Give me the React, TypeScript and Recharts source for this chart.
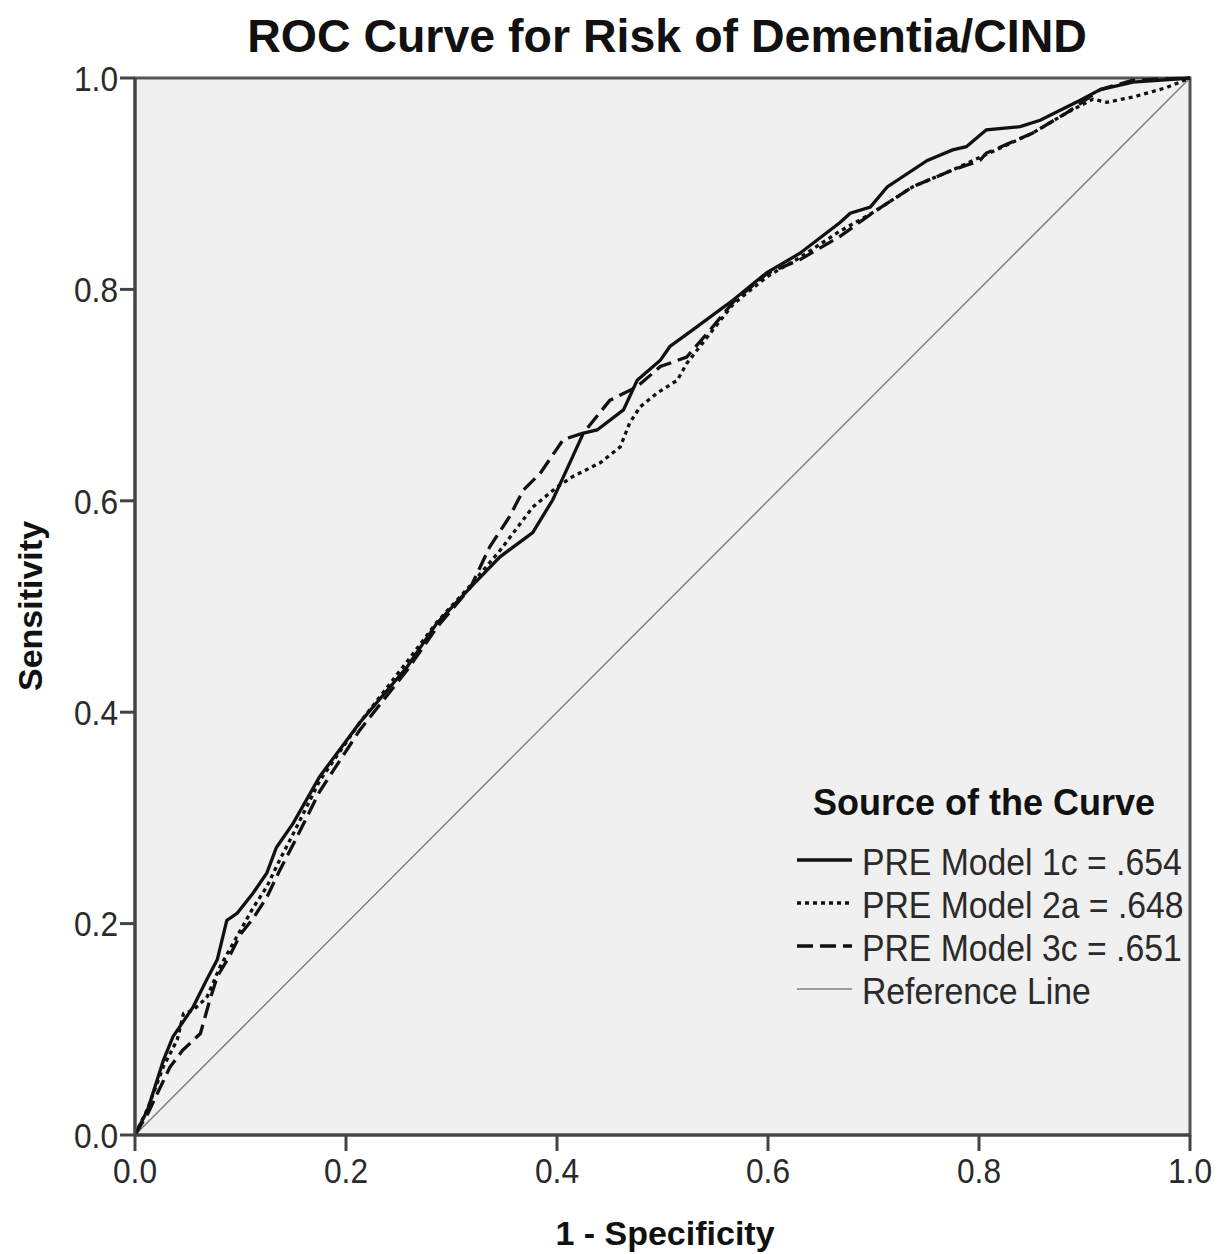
import { Legend, Line, LineChart, ReferenceArea, ReferenceLine, XAxis, YAxis } from "recharts";

// 1 - specificity / sensitivity pairs
const model1cX = [0, 0.012, 0.027, 0.036, 0.055, 0.068, 0.078, 0.087, 0.097, 0.112, 0.125, 0.134, 0.15, 0.175, 0.213, 0.258, 0.286, 0.318, 0.346, 0.377, 0.396, 0.409, 0.425, 0.438, 0.463, 0.476, 0.498, 0.507, 0.529, 0.567, 0.599, 0.63, 0.668, 0.678, 0.697, 0.713, 0.751, 0.775, 0.788, 0.807, 0.839, 0.858, 0.896, 0.915, 0.946, 1];
const model1cY = [0, 0.024, 0.071, 0.093, 0.121, 0.147, 0.166, 0.203, 0.21, 0.229, 0.248, 0.272, 0.295, 0.339, 0.39, 0.443, 0.484, 0.518, 0.547, 0.57, 0.601, 0.629, 0.664, 0.667, 0.686, 0.714, 0.733, 0.746, 0.762, 0.79, 0.816, 0.834, 0.863, 0.872, 0.878, 0.897, 0.922, 0.932, 0.935, 0.951, 0.954, 0.96, 0.979, 0.989, 0.996, 1];

const model2aX = [0, 0.012, 0.027, 0.04, 0.046, 0.055, 0.068, 0.081, 0.095, 0.112, 0.125, 0.137, 0.15, 0.175, 0.213, 0.258, 0.286, 0.318, 0.346, 0.377, 0.4, 0.415, 0.441, 0.46, 0.469, 0.479, 0.495, 0.514, 0.523, 0.548, 0.567, 0.599, 0.63, 0.668, 0.7, 0.737, 0.775, 0.801, 0.851, 0.883, 0.908, 0.921, 0.946, 0.978, 1];
const model2aY = [0, 0.025, 0.065, 0.09, 0.115, 0.118, 0.13, 0.16, 0.185, 0.215, 0.235, 0.26, 0.285, 0.335, 0.39, 0.448, 0.485, 0.52, 0.553, 0.594, 0.613, 0.623, 0.636, 0.651, 0.674, 0.689, 0.702, 0.714, 0.73, 0.762, 0.786, 0.812, 0.83, 0.855, 0.873, 0.897, 0.913, 0.925, 0.948, 0.967, 0.98, 0.977, 0.982, 0.991, 1];

const model3cX = [0, 0.012, 0.033, 0.045, 0.062, 0.071, 0.078, 0.09, 0.1, 0.112, 0.125, 0.137, 0.15, 0.175, 0.213, 0.258, 0.286, 0.318, 0.336, 0.355, 0.368, 0.384, 0.406, 0.425, 0.45, 0.476, 0.498, 0.523, 0.548, 0.567, 0.599, 0.63, 0.668, 0.7, 0.737, 0.775, 0.801, 0.807, 0.851, 0.883, 0.915, 0.946, 1];
const model3cY = [0, 0.02, 0.064, 0.08, 0.096, 0.128, 0.15, 0.17, 0.19, 0.205, 0.225, 0.25, 0.275, 0.325, 0.383, 0.44, 0.48, 0.518, 0.556, 0.585, 0.61, 0.626, 0.658, 0.664, 0.695, 0.708, 0.727, 0.736, 0.765, 0.788, 0.815, 0.828, 0.85, 0.873, 0.897, 0.913, 0.922, 0.929, 0.948, 0.967, 0.989, 0.998, 1];

const seriesNames = ["PRE Model 1c = .654", "PRE Model 2a = .648", "PRE Model 3c = .651"];
const seriesDash = ["", "4 4", "16 7"];
const axisTicks = [0, 0.2, 0.4, 0.6, 0.8, 1.0];

const toPoints = (xs: number[], ys: number[]) => xs.map((x, i) => ({ x, y: ys[i] }));
const series = [
	toPoints(model1cX, model1cY),
	toPoints(model2aX, model2aY),
	toPoints(model3cX, model3cY),
];

const FONT = '"Liberation Sans", Arial, sans-serif';

function XTick({ x, y, payload }: any) {
	return (
		<g transform={`translate(${x},${y})`}>
			<text transform="scale(0.88,1)" textAnchor="middle" dy="0.71em" fontSize={36} fontFamily={FONT} fill="#2a2a2a">
				{Number(payload.value).toFixed(1)}
			</text>
		</g>
	);
}

function YTick({ x, y, payload }: any) {
	return (
		<g transform={`translate(${x},${y})`}>
			<text transform="scale(0.88,1)" textAnchor="end" dy="0.355em" fontSize={36} fontFamily={FONT} fill="#2a2a2a">
				{Number(payload.value).toFixed(1)}
			</text>
		</g>
	);
}

function CurveLegend() {
	const rows = [...seriesNames, "Reference Line"];
	return (
		<svg width={420} height={240} style={{ display: "block" }}>
			<text x={23} y={35} fontSize={36} fontWeight="bold" fontFamily={FONT} fill="#111">
				Source of the Curve
			</text>
			{rows.map((name, i) => {
				const ly = 80 + i * 43;
				const isRef = i === 3;
				return (
					<g key={name}>
						<line
							x1={7}
							x2={62}
							y1={ly}
							y2={ly}
							stroke={isRef ? "#808080" : "#111"}
							strokeWidth={isRef ? 1.5 : 3.5}
							strokeDasharray={isRef ? undefined : seriesDash[i] || undefined}
						/>
						<text x={72} y={ly + 15} transform={`translate(${72 * 0.1},0) scale(0.9,1)`} fontSize={37.5} fontFamily={FONT} fill="#2a2a2a">
							{name}
						</text>
					</g>
				);
			})}
		</svg>
	);
}

export default function App() {
	return (
		<div style={{ position: "relative", width: 1212, height: 1246 }}>
			<LineChart width={1212} height={1246} margin={{ top: 70, right: 30, bottom: 59, left: 27 }}>
				<XAxis
					dataKey="x"
					type="number"
					domain={[0, 1]}
					ticks={axisTicks}
					allowDuplicatedCategory={false}
					height={60}
					tickSize={16}
					tickMargin={6}
					tick={<XTick />}
					axisLine={{ stroke: "#444", strokeWidth: 3 }}
					tickLine={{ stroke: "#444", strokeWidth: 3 }}
				/>
				<YAxis
					dataKey="y"
					type="number"
					domain={[0, 1]}
					ticks={axisTicks}
					width={100}
					tickSize={15}
					tickMargin={2}
					tick={<YTick />}
					axisLine={{ stroke: "#444", strokeWidth: 3 }}
					tickLine={{ stroke: "#444", strokeWidth: 3 }}
				/>
				<ReferenceArea x1={0} x2={1} y1={0} y2={1} fill="#f0f0f0" fillOpacity={1} stroke="#555" strokeWidth={3} />
				<ReferenceLine
					segment={[
						{ x: 0, y: 0 },
						{ x: 1, y: 1 },
					]}
					stroke="#808080"
					strokeWidth={1.5}
				/>
				{series.map((pts, i) => (
					<Line
						key={seriesNames[i]}
						data={pts}
						dataKey="y"
						name={seriesNames[i]}
						type="linear"
						stroke="#111"
						strokeWidth={3.3}
						strokeDasharray={seriesDash[i] || undefined}
						dot={false}
						activeDot={false}
						isAnimationActive={false}
					/>
				))}
				<Legend
					layout="vertical"
					verticalAlign="middle"
					align="center"
					content={() => <CurveLegend />}
					wrapperStyle={{ position: "absolute", left: 782, top: 772, width: 420, height: 240 }}
				/>
			</LineChart>
			<svg
				width={1212}
				height={1246}
				style={{ position: "absolute", left: 0, top: 0, pointerEvents: "none" }}
			>
				<text x={659} y={44} textAnchor="middle" fontSize={46.5} fontWeight="bold" fontFamily={FONT} fill="#111">
					ROC Curve for Risk of Dementia/CIND
				</text>
				<text x={657} y={1237} textAnchor="middle" fontSize={34} fontWeight="bold" fontFamily={FONT} fill="#111">
					1 - Specificity
				</text>
				<text transform="translate(34,598) rotate(-90)" textAnchor="middle" fontSize={34} fontWeight="bold" fontFamily={FONT} fill="#111">
					Sensitivity
				</text>
			</svg>
		</div>
	);
}
